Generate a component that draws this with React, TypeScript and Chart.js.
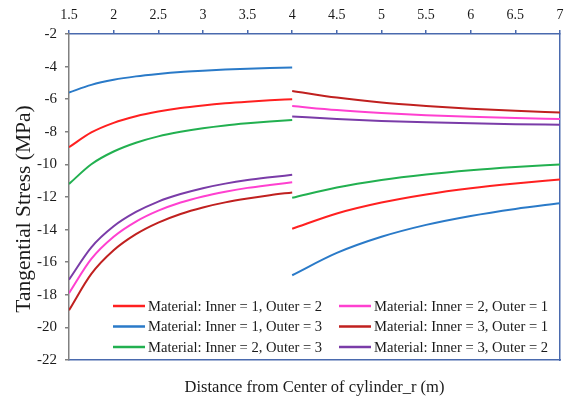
import { useEffect, useRef } from "react";
import { Chart, registerables } from "chart.js";

Chart.register(...registerables);

// Radial positions (m) for the inner and outer cylinder
const innerRadius = [1.5, 1.75, 2, 2.25, 2.5, 2.75, 3, 3.25, 3.5, 3.75, 4];
const outerRadius = [4, 4.5, 5, 5.5, 6, 6.5, 7];

// Axis ticks
const xTicks = [1.5, 2, 2.5, 3, 3.5, 4, 4.5, 5, 5.5, 6, 6.5, 7];
const yTicks = [-2, -4, -6, -8, -10, -12, -14, -16, -18, -20, -22];

// Material combinations
const seriesLabels = [
  "Material: Inner = 1, Outer = 2",
  "Material: Inner = 1, Outer = 3",
  "Material: Inner = 2, Outer = 3",
  "Material: Inner = 2, Outer = 1",
  "Material: Inner = 3, Outer = 1",
  "Material: Inner = 3, Outer = 2",
];
const seriesColors = ["#ff2020", "#2a7ac8", "#22b050", "#ff40d0", "#c0201f", "#7a3ca8"];

// Tangential stress (MPa) in the inner cylinder
const inner12 = [-8.95, -8.04, -7.45, -7.05, -6.76, -6.54, -6.38, -6.25, -6.15, -6.07, -6.0];
const inner13 = [-5.59, -5.12, -4.81, -4.6, -4.45, -4.33, -4.25, -4.18, -4.13, -4.09, -4.05];
const inner23 = [-11.2, -9.99, -9.21, -8.67, -8.28, -8.0, -7.78, -7.61, -7.48, -7.37, -7.28];
const inner21 = [-17.9, -15.8, -14.44, -13.51, -12.84, -12.34, -11.97, -11.68, -11.44, -11.26, -11.1];
const inner31 = [-18.95, -16.72, -15.27, -14.28, -13.57, -13.04, -12.64, -12.33, -12.09, -11.89, -11.72];
const inner32 = [-17.07, -15.09, -13.8, -12.92, -12.28, -11.82, -11.46, -11.18, -10.96, -10.79, -10.64];

// Tangential stress (MPa) in the outer cylinder
const outer12 = [-13.95, -13.01, -12.34, -11.84, -11.46, -11.17, -10.93];
const outer13 = [-16.8, -15.43, -14.44, -13.71, -13.16, -12.73, -12.38];
const outer23 = [-12.05, -11.42, -10.96, -10.62, -10.36, -10.16, -10.0];
const outer21 = [-6.42, -6.67, -6.85, -6.98, -7.08, -7.16, -7.22];
const outer31 = [-5.49, -5.9, -6.2, -6.41, -6.58, -6.71, -6.81];
const outer32 = [-7.06, -7.22, -7.34, -7.42, -7.48, -7.53, -7.57];

const innerSeries = [inner12, inner13, inner23, inner21, inner31, inner32];
const outerSeries = [outer12, outer13, outer23, outer21, outer31, outer32];

const yTitle = "Tangential Stress (MPa)";
const xTitle = "Distance from Center of cylinder_r (m)";

const SERIF = '"Liberation Serif", "Times New Roman", serif';
const AXIS_BLUE = "#4a6aae";
const AXIS_GRAY = "#808080";
const TEXT = "#1a1a1a";

// Two-column legend inside the plot area plus the rotated y-axis title
const overlay = {
  id: "overlay",
  afterDraw(chart: any) {
    const { ctx, chartArea } = chart;
    const cols = [chartArea.left + 44, chartArea.left + 270];
    const rows = [chartArea.bottom - 54, chartArea.bottom - 33.5, chartArea.bottom - 13];
    ctx.save();
    ctx.font = `14.6px ${SERIF}`;
    ctx.textBaseline = "middle";
    ctx.textAlign = "left";
    seriesLabels.forEach((label, i) => {
      const x = cols[Math.floor(i / 3)];
      const y = rows[i % 3];
      ctx.strokeStyle = seriesColors[i];
      ctx.lineWidth = 2.5;
      ctx.beginPath();
      ctx.moveTo(x, y);
      ctx.lineTo(x + 32, y);
      ctx.stroke();
      ctx.fillStyle = TEXT;
      ctx.fillText(label, x + 35, y + 1);
    });
    ctx.restore();

    ctx.save();
    ctx.translate(29.5, (chartArea.top + chartArea.bottom) / 2 + 12);
    ctx.rotate(-Math.PI / 2);
    ctx.font = `21.5px ${SERIF}`;
    ctx.textAlign = "center";
    ctx.textBaseline = "alphabetic";
    ctx.fillStyle = TEXT;
    ctx.fillText(yTitle, 0, 0);
    ctx.restore();
  },
};

export default function App() {
  const canvasRef = useRef<HTMLCanvasElement | null>(null);

  useEffect(() => {
    const canvas = canvasRef.current;
    if (!canvas) return;

    const datasets: any[] = [];
    seriesLabels.forEach((label, i) => {
      datasets.push({
        label,
        data: innerRadius.map((r, k) => ({ x: r, y: innerSeries[i][k] })),
        borderColor: seriesColors[i],
        borderWidth: 2,
        pointRadius: 0,
        cubicInterpolationMode: "monotone",
        xAxisID: "x",
        yAxisID: "y",
      });
      datasets.push({
        label,
        data: outerRadius.map((r, k) => ({ x: r, y: outerSeries[i][k] })),
        borderColor: seriesColors[i],
        borderWidth: 2,
        pointRadius: 0,
        cubicInterpolationMode: "monotone",
        xAxisID: "x",
        yAxisID: "y",
      });
    });

    const chart = new Chart(canvas, {
      type: "line",
      data: { datasets },
      plugins: [overlay],
      options: {
        responsive: false,
        animation: false,
        layout: { padding: 0 },
        plugins: {
          legend: { display: false },
          tooltip: { enabled: false },
        },
        scales: {
          x: {
            type: "linear",
            position: "top",
            min: 1.5,
            max: 7,
            afterBuildTicks: (s: any) => {
              s.ticks = xTicks.map((v) => ({ value: v }));
            },
            afterFit: (s: any) => {
              s.height = 34;
              s.paddingLeft = 0;
              s.paddingRight = 0;
            },
            ticks: {
              padding: 6,
              color: TEXT,
              font: { family: SERIF, size: 14 },
              callback: (v: any) => String(v),
            },
            grid: { drawOnChartArea: false, tickLength: 4, color: AXIS_BLUE, lineWidth: 1.5 },
            border: { color: AXIS_BLUE, width: 1.5 },
          },
          xb: {
            type: "linear",
            position: "bottom",
            min: 1.5,
            max: 7,
            afterFit: (s: any) => {
              s.height = 39;
              s.paddingLeft = 0;
              s.paddingRight = 0;
            },
            ticks: { display: false },
            grid: { display: false },
            border: { color: AXIS_BLUE, width: 1.5 },
            title: {
              display: true,
              text: xTitle,
              color: TEXT,
              font: { family: SERIF, size: 16.5 },
              padding: { top: 0, bottom: 1 },
            },
          },
          y: {
            type: "linear",
            position: "left",
            min: -22,
            max: -2,
            afterBuildTicks: (s: any) => {
              s.ticks = yTicks.map((v) => ({ value: v }));
            },
            afterFit: (s: any) => {
              s.width = 69;
              s.paddingTop = 0;
              s.paddingBottom = 0;
            },
            ticks: {
              padding: 8,
              color: TEXT,
              font: { family: SERIF, size: 15 },
              callback: (v: any) => String(v),
            },
            grid: { drawOnChartArea: false, tickLength: 4, color: AXIS_GRAY, lineWidth: 1.5 },
            border: { color: AXIS_GRAY, width: 1.5 },
          },
          yr: {
            type: "linear",
            position: "right",
            min: -22,
            max: -2,
            afterFit: (s: any) => {
              s.width = 5;
              s.paddingTop = 0;
              s.paddingBottom = 0;
            },
            ticks: { display: false },
            grid: { display: false },
            border: { color: AXIS_BLUE, width: 1.5 },
          },
        },
      },
    } as any);

    return () => chart.destroy();
  }, []);

  return (
    <div style={{ position: "fixed", left: 0, top: 0, width: 565, height: 399, background: "#ffffff" }}>
      <canvas ref={canvasRef} width={565} height={399} />
    </div>
  );
}
